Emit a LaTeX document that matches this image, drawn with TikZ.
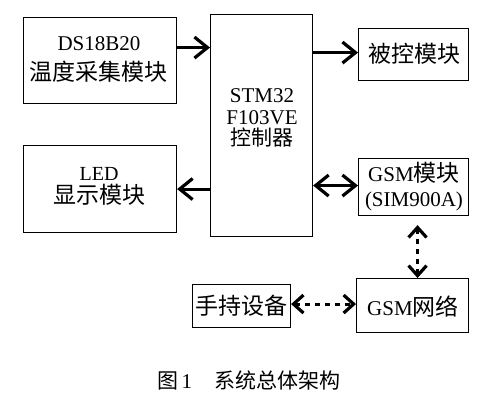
\documentclass[tikz,border=0pt]{standalone}
\usepackage{fontspec}
\setmainfont{Liberation Serif}
\newfontfamily\cjk{Noto Sans CJK SC}
\usetikzlibrary{arrows.meta}
\begin{document}
\begin{tikzpicture}[x=1pt,y=-1pt,
  box/.style={draw, line width=1.1pt, inner sep=0pt, anchor=north west},
  txt/.style={inner sep=0pt, align=center},
  arr/.style={line width=3pt, -{Straight Barb[length=13pt,width=21pt,line width=3.2pt]}},
  biarr/.style={line width=3pt, {Straight Barb[length=13pt,width=21pt,line width=3.2pt]}-{Straight Barb[length=13pt,width=21pt,line width=3.2pt]}},
  dotarr/.style={line width=3pt, dash pattern=on 5pt off 5pt, {Straight Barb[length=10pt,width=18pt,line width=3.2pt]}-{Straight Barb[length=10pt,width=18pt,line width=3.2pt]}}
]
\fill[white] (0,0) rectangle (504,404);
\useasboundingbox (0,0) rectangle (504,404);

% boxes
\node[box, minimum width=153pt, minimum height=86pt] (ds) at (23,17) {};
\node[box, minimum width=153pt, minimum height=87pt] (led) at (23,145) {};
\node[box, minimum width=102pt, minimum height=222pt] (stm) at (210,14) {};
\node[box, minimum width=110pt, minimum height=52pt] (bk) at (358,28) {};
\node[box, minimum width=110pt, minimum height=57pt] (gsm) at (358,158) {};
\node[box, minimum width=112pt, minimum height=54pt] (net) at (356,278) {};
\node[box, minimum width=98pt, minimum height=43pt] (hand) at (192,284) {};

% texts
\node[txt, font=\fontsize{21}{30}\selectfont] (dst) at (99,59) {DS18B20\\{\cjk\fontsize{23}{30}\selectfont 温度采集模块}};
\node[txt, font=\fontsize{20}{23}\selectfont] (ledt) at (99,186) {LED\\{\cjk\fontsize{23}{23}\selectfont 显示模块}};
\node[txt, font=\fontsize{21}{21.5}\selectfont] (stmt) at (262,118) {STM32\\F103VE\\{\cjk\fontsize{21}{21.5}\selectfont 控制器}};
\node[txt, font=\cjk\fontsize{23}{26}\selectfont] (bkt) at (414,54) {被控模块};
\node[txt, font=\fontsize{21}{25}\selectfont] (gsmt) at (414,187) {GSM{\cjk\fontsize{23}{25}\selectfont 模块}\\(SIM900A)};
\node[txt, font=\fontsize{21}{25}\selectfont] (nett) at (413,307) {GSM{\cjk\fontsize{23}{25}\selectfont 网络}};
\node[txt, font=\cjk\fontsize{23}{25}\selectfont] (handt) at (241,306) {手持设备};

% caption
\node[inner sep=0pt, anchor=west, font=\fontsize{21}{24}\selectfont] (cap) at (157,380) {{\cjk 图}\,1\hspace{22pt}{\cjk 系统总体架构}};

% connectors
\draw[arr] ([yshift=13pt]ds.east) -- ([yshift=13pt]ds.east -| stm.west);
\draw[arr] ([yshift=2pt]bk.west -| stm.east) -- ([yshift=2pt]bk.west);
\draw[arr] (stm.west |- led.east) -- (led.east);
\draw[biarr] ([yshift=1.5pt]gsm.west -| stm.east) -- ([yshift=1.5pt]gsm.west);
\draw[dotarr, shorten <=9pt] ([xshift=4pt]gsm.south) -- ([xshift=4pt]gsm.south |- net.north);
\draw[dotarr] ([yshift=2pt]hand.east) -- ([yshift=2pt]hand.east -| net.west);
\end{tikzpicture}
\end{document}
